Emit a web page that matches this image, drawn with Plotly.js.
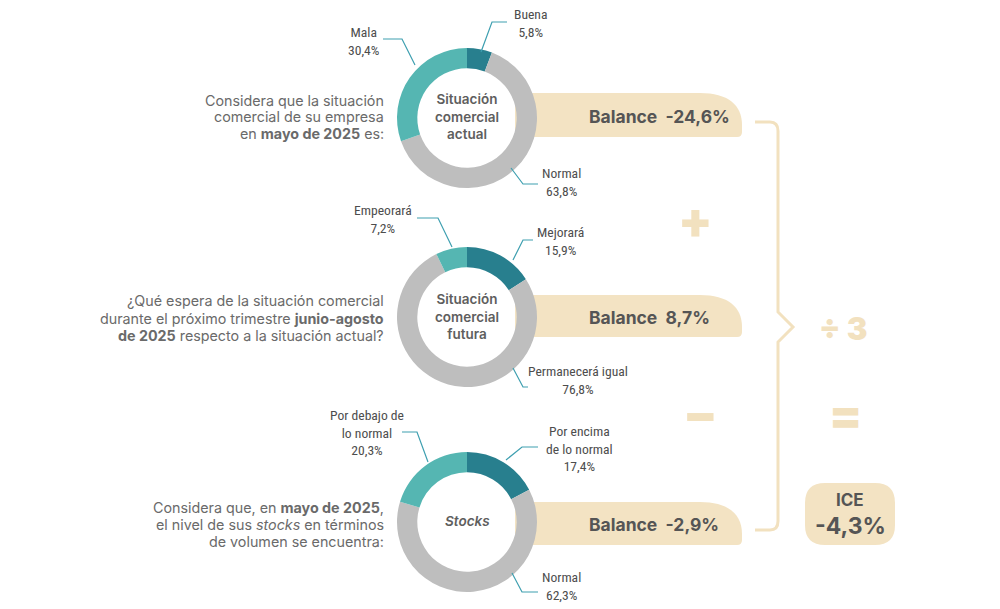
<!DOCTYPE html>
<html>
<head>
<meta charset="utf-8">
<script src="https://cdn.plot.ly/plotly-3.0.1.min.js"></script>
<style>html,body{margin:0;padding:0;background:#fff;}#chart{width:1000px;height:609px;}</style>
</head>
<body>
<div id="chart"></div>
<script>
// ---- Data ----
const centerTitles = ['Situación<br>comercial<br>actual', 'Situación<br>comercial<br>futura', '<i>Stocks</i>'];
const labelsActual = ['Buena', 'Normal', 'Mala'];
const valuesActual = [5.8, 63.8, 30.4];
const labelsFutura = ['Mejorará', 'Permanecerá igual', 'Empeorará'];
const valuesFutura = [15.9, 76.8, 7.2];
const labelsStocks = ['Por encima<br>de lo normal', 'Normal', 'Por debajo de<br>lo normal'];
const valuesStocks = [17.4, 62.3, 20.3];
const balances = [-24.6, 8.7, -2.9];
const iceValue = -4.3;
const questions = [
  ['Considera que la situación', 'comercial de su empresa', 'en <b>mayo de 2025</b> es:'],
  ['¿Qué espera de la situación comercial', 'durante el próximo trimestre <b>junio-agosto</b>', '<b>de 2025</b> respecto a la situación actual?'],
  ['Considera que, en <b>mayo de 2025</b>,', 'el nivel de sus <i>stocks</i> en términos', 'de volumen se encuentra:']
];

// ---- Styling / layout helpers ----
const W = 1000, H = 609;
const COLORS = ['#287F8E', '#BEBEBE', '#55B6B2'];
const BEIGE = '#F3E3C3';
const OPC = '#F2E1BF';
const LEAD = '#3E9FB0';
const MAIN_FONT = 'Inter, "Open Sans", sans-serif';
const NARROW = '"Roboto Condensed", "Liberation Sans Narrow", "DejaVu Sans Condensed", Roboto, sans-serif';
const fx = x => x / W;
const fy = y => 1 - y / H;
const fmt = v => v.toFixed(1).replace('.', ',') + '%';
function path(cmds) {
  return cmds.map(c => c[0] + ' ' + c.slice(1).reduce((a, v, i) => {
    a.push(i % 2 === 0 ? fx(v).toFixed(5) : fy(v).toFixed(5)); return a;
  }, []).join(',')).join(' ');
}

const donutY = [[48, 188], [247, 387], [452, 592]];
const donutX = [397, 537];
const series = [
  {labels: labelsActual, values: valuesActual},
  {labels: labelsFutura, values: valuesFutura},
  {labels: labelsStocks, values: valuesStocks}
];

const data = series.map((s, i) => ({
  type: 'pie',
  labels: s.labels,
  values: s.values,
  sort: false,
  direction: 'clockwise',
  rotation: 0,
  hole: 0.71,
  textinfo: 'none',
  hoverinfo: 'skip',
  marker: {colors: COLORS, line: {width: 0}},
  domain: {x: [fx(donutX[0]), fx(donutX[1])], y: [fy(donutY[i][1]), fy(donutY[i][0])]},
  showlegend: false
}));

const labelPos = [
  [[530, 23], [561, 182], [363, 41]],
  [[560, 241], [578, 380], [383, 219]],
  [[579, 448], [561, 586], [367, 432]]
];
const leaders = [
  [[[481, 52], [492, 22], [507, 22]], [[511, 168], [523, 184], [538, 184]], [[383, 39], [402, 39], [415, 65]]],
  [[[513, 260], [523, 240], [533, 240]], [[513, 368], [523, 387], [528, 387]], [[417, 218], [438, 218], [452, 247]]],
  [[[506, 460], [522, 447], [538, 447]], [[512, 573], [522, 592], [538, 592]], [[402, 432], [417, 432], [428, 462]]]
];

const shapes = [];
const annotations = [];

// balance boxes
const boxY = [[93, 137], [295, 337], [502, 545]];
boxY.forEach(([t, b]) => {
  shapes.push({
    type: 'path', xref: 'paper', yref: 'paper', layer: 'below',
    path: path([['M', 515, t], ['L', 700, t], ['C', 728, t, 742, t + 12, 742, t + 32], ['L', 742, b - 5], ['Q', 742, b, 737, b], ['L', 515, b]]) + ' Z',
    fillcolor: BEIGE, line: {width: 0}
  });
});
const boxTextY = [116, 317, 524];
balances.forEach((v, i) => {
  annotations.push({
    xref: 'paper', yref: 'paper', x: fx(587), y: fy(boxTextY[i]), xanchor: 'left', yanchor: 'middle',
    text: 'Balance\u00A0\u00A0' + fmt(v), showarrow: false,
    font: {family: MAIN_FONT, size: 17.5, color: '#555555', weight: 700}
  });
});

// leader lines + labels
series.forEach((s, i) => {
  s.labels.forEach((lab, j) => {
    const pts = leaders[i][j];
    shapes.push({
      type: 'path', xref: 'paper', yref: 'paper', layer: 'above',
      path: path([['M'].concat(pts[0]), ['L'].concat(pts[1]), ['L'].concat(pts[2])]),
      line: {color: LEAD, width: 1.2}
    });
    annotations.push({
      xref: 'paper', yref: 'paper', x: fx(labelPos[i][j][0]), y: fy(labelPos[i][j][1]),
      xanchor: 'center', yanchor: 'middle', align: 'center', showarrow: false,
      text: lab + '<br>' + fmt(s.values[j]),
      font: {family: NARROW, size: 13.6, color: '#4D4D4D', stretch: 'condensed', weight: 400}
    });
  });
  annotations.push({
    xref: 'paper', yref: 'paper', x: fx(467), y: fy((donutY[i][0] + donutY[i][1]) / 2 - 1),
    xanchor: 'center', yanchor: 'middle', align: 'center', showarrow: false,
    text: centerTitles[i],
    font: {family: MAIN_FONT, size: 13.5, color: '#5E5E5E', weight: 600}
  });
  const qy = [100, 301, 507][i];
  questions[i].forEach((line, k) => {
    annotations.push({
      xref: 'paper', yref: 'paper', x: fx(386), y: fy(qy + k * 17),
      xanchor: 'right', yanchor: 'middle', align: 'right', showarrow: false,
      text: line,
      font: {family: MAIN_FONT, size: 14.3, color: '#6A6A6A'}
    });
  });
});

// brace
shapes.push({
  type: 'path', xref: 'paper', yref: 'paper', layer: 'above',
  path: path([['M', 755, 122], ['L', 770, 122], ['Q', 778, 122, 778, 131], ['L', 778, 312], ['L', 793, 327], ['L', 778, 342], ['L', 778, 521], ['Q', 778, 530, 770, 530], ['L', 755, 530]]),
  line: {color: OPC, width: 3}
});

// operators
const ops = [
  {t: '+', x: 695, y: 220, s: 50},
  {t: '−', x: 700, y: 414, s: 50},
  {t: '÷\u00A03', x: 843, y: 328, s: 31},
  {t: '=', x: 845, y: 415, s: 48}
];
ops.forEach(o => annotations.push({
  xref: 'paper', yref: 'paper', x: fx(o.x), y: fy(o.y), xanchor: 'center', yanchor: 'middle',
  showarrow: false, text: o.t, font: {family: MAIN_FONT, size: o.s, color: OPC, weight: 900}
}));

// ICE box
shapes.push({
  type: 'path', xref: 'paper', yref: 'paper', layer: 'below',
  path: path([['M', 825, 483], ['L', 875, 483], ['Q', 895, 483, 895, 503], ['L', 895, 525], ['Q', 895, 545, 875, 545], ['L', 825, 545], ['Q', 805, 545, 805, 525], ['L', 805, 503], ['Q', 805, 483, 825, 483]]) + ' Z',
  fillcolor: BEIGE, line: {width: 0}
});
annotations.push({
  xref: 'paper', yref: 'paper', x: fx(850), y: fy(500), xanchor: 'center', yanchor: 'middle',
  showarrow: false, text: 'ICE', font: {family: MAIN_FONT, size: 17, color: '#555555', weight: 700}
});
annotations.push({
  xref: 'paper', yref: 'paper', x: fx(850), y: fy(526), xanchor: 'center', yanchor: 'middle',
  showarrow: false, text: fmt(iceValue), font: {family: MAIN_FONT, size: 23, color: '#555555', weight: 700}
});

const layout = {
  width: W, height: H,
  margin: {l: 0, r: 0, t: 0, b: 0, pad: 0},
  paper_bgcolor: '#ffffff', plot_bgcolor: '#ffffff',
  showlegend: false, hovermode: false,
  shapes: shapes, annotations: annotations
};

Plotly.newPlot('chart', data, layout, {displayModeBar: false, staticPlot: true});
</script>
</body>
</html>
